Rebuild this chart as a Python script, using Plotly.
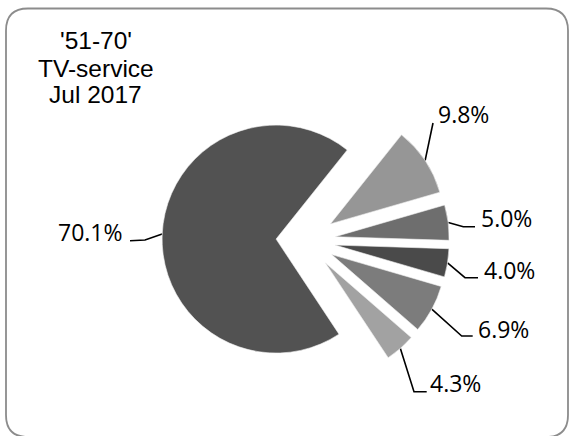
import math
import plotly.graph_objects as go

# Share of viewers by TV service, age group '51-70', Jul 2017 (clockwise from the big slice)
shares = [70.1, 9.8, 5.0, 4.0, 6.9, 4.3]
slice_colors = ["#525252", "#969696", "#6e6e6e", "#4a4a4a", "#7c7c7c", "#a2a2a2"]
title_lines = ["'51-70'", "TV-service", "Jul 2017"]

W, H = 569, 436

# Pie geometry in pixels
cx, cy = 305.7, 240.4
radius = 114.0
pull = 0.26
rotation = 146.5
outer = radius * (1 + pull)

# Label placement: (text x, text y, anchor) and leader elbow/end points
label_text_pos = [(125, 232, "right"), (436, 114, "left"), (479, 218, "left"),
                  (481.7, 269.7, "left"), (475.7, 328.7, "left"), (428.3, 383, "left")]
leader_tail = [[(145, 240), (130, 240.7)],
               [(433, 123)],
               [(463.3, 226.7), (475, 226.7)],
               [(465, 277.7), (478, 277.7)],
               [(461.7, 336), (472.7, 336)],
               [(414, 391.7), (426.7, 391.7)]]

fig = go.Figure()

fig.add_trace(go.Pie(
    values=shares,
    labels=[f"s{i}" for i in range(len(shares))],
    sort=False,
    direction="clockwise",
    rotation=rotation,
    pull=[pull] * len(shares),
    marker=dict(colors=slice_colors, line=dict(color="#f2f2f2", width=0.6)),
    textinfo="none",
    hoverinfo="skip",
    showlegend=False,
    domain=dict(x=[(cx - outer) / W, (cx + outer) / W],
                y=[1 - (cy + outer) / H, 1 - (cy - outer) / H]),
))

# Hidden pixel-space axes for leader lines and text
fig.update_xaxes(range=[0, W], visible=False, fixedrange=True)
fig.update_yaxes(range=[H, 0], visible=False, fixedrange=True)

total = sum(shares)
acc = 0.0
for v, (tx, ty, anchor), tail in zip(shares, label_text_pos, leader_tail):
    mid = rotation + (acc + v / 2) / total * 360.0
    acc += v
    a = math.radians(mid)
    sx = cx + outer * math.sin(a)
    sy = cy - outer * math.cos(a)
    pts = [(sx, sy)] + tail
    fig.add_trace(go.Scatter(
        x=[p[0] for p in pts], y=[p[1] for p in pts],
        mode="lines", line=dict(color="black", width=1.6),
        hoverinfo="skip", showlegend=False,
    ))
    fig.add_annotation(
        x=tx, y=ty, xref="x", yref="y", text=f"{v:.1f}%", showarrow=False,
        xanchor=anchor, yanchor="middle",
        font=dict(family="Open Sans", size=23, color="black"),
    )

# Title block, one line per annotation
for line, y in zip(title_lines, [40.3, 68.3, 94.3]):
    fig.add_annotation(
        x=95.5, y=y, xref="x", yref="y", text=line, showarrow=False,
        xanchor="center", yanchor="middle",
        font=dict(family="Liberation Sans, Arial", size=24.5, color="black"),
    )

# Rounded frame
x0, y0, x1, y1, rc = 6, 8.5, 568, 437, 22
frame = (f"M {x0+rc},{y0} L {x1-rc},{y0} Q {x1},{y0} {x1},{y0+rc} "
         f"L {x1},{y1-rc} Q {x1},{y1} {x1-rc},{y1} L {x0+rc},{y1} "
         f"Q {x0},{y1} {x0},{y1-rc} L {x0},{y0+rc} Q {x0},{y0} {x0+rc},{y0} Z")
fig.add_shape(type="path", path=frame, xref="x", yref="y",
              line=dict(color="#8c8c8c", width=1.8), layer="above")

fig.update_layout(
    width=W, height=H,
    margin=dict(l=0, r=0, t=0, b=0),
    paper_bgcolor="white", plot_bgcolor="rgba(0,0,0,0)",
)

fig.write_html("out.html")
